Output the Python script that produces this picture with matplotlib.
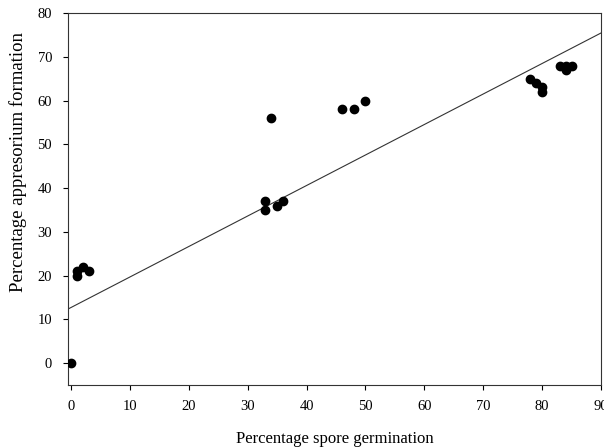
import numpy as np
import matplotlib
matplotlib.use("Agg")
import matplotlib.pyplot as plt

plt.rcParams["font.family"] = ["Liberation Serif", "DejaVu Serif"]

# germination (%) vs appressorium formation (%)
germination = [0, 1, 1, 2, 3, 33, 33, 35, 36, 34, 46, 48, 50,
               78, 79, 80, 80, 83, 84, 84, 85]
appressorium = [0, 20, 21, 22, 21, 37, 35, 36, 37, 56, 58, 58, 60,
                65, 64, 63, 62, 68, 68, 67, 68]

# regression line
intercept = 12.7
slope = 0.697

fig = plt.figure(figsize=(6.04, 4.48), dpi=100)
ax = fig.add_axes([68 / 604, 1 - 385 / 448, 533 / 604, 372 / 448])

ax.scatter(germination, appressorium, s=36, c="black", zorder=3)

xlo, xhi = -0.5, 90
line_x = np.array([xlo, xhi])
ax.plot(line_x, intercept + slope * line_x, color="#333333", linewidth=0.8)

ax.set_xlim(xlo, xhi)
ax.set_ylim(-5, 80)
ax.set_xticks(range(0, 91, 10))
ax.set_yticks(range(0, 81, 10))
ax.tick_params(direction="out", length=3.5, width=0.8, labelsize=10.5)
ax.tick_params(axis="x", pad=7)
ax.tick_params(axis="y", pad=8)
for s in ax.spines.values():
    s.set_linewidth(0.8)
    s.set_color("#333333")

ax.set_xlabel("Percentage spore germination", fontsize=12, labelpad=13)
ax.set_ylabel("Percentage appresorium formation", fontsize=13.5)
ax.yaxis.set_label_coords(-0.076, 0.6)

fig.savefig("out.png", dpi=100)
